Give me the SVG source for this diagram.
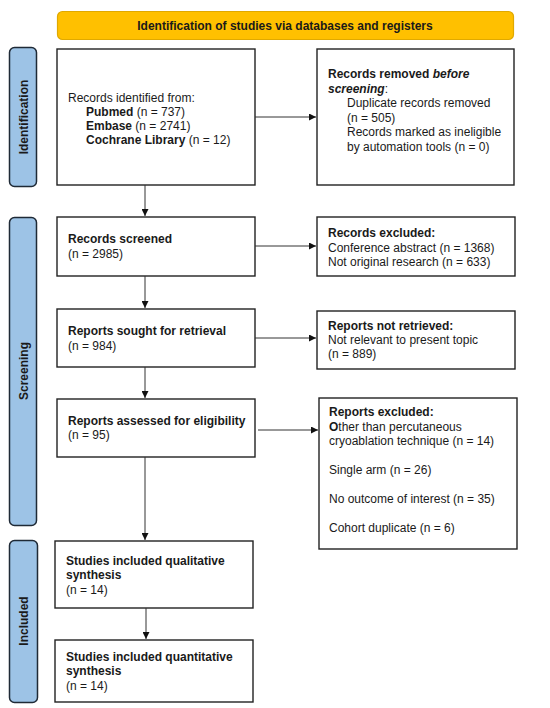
<svg xmlns="http://www.w3.org/2000/svg" width="550" height="708" viewBox="0 0 550 708">
<defs>
<style>
text{font-family:"Liberation Sans",Arial,sans-serif;font-size:12px;fill:#1a1a1a}
.b{font-weight:bold}
.box{fill:#fff;stroke:#222;stroke-width:1.4}
.side{fill:#9DC3E6;stroke:#1f2a36;stroke-width:1.5}
.ban{fill:#FFC000;stroke:#E0A900;stroke-width:1.2}
.c line{stroke:#333;stroke-width:1}
</style>
<marker id="ah" viewBox="0 0 10 10" refX="10" refY="5" markerWidth="7" markerHeight="7" markerUnits="userSpaceOnUse" orient="auto">
<path d="M0,0 L10,5 L0,10 z" fill="#111"/>
</marker>
</defs>
<rect width="550" height="708" fill="#fff"/>

<g id="banner">
<rect class="ban" x="57.5" y="11.5" width="456" height="28" rx="5"/>
<text class="b" x="285" y="30" text-anchor="middle">Identification of studies via databases and registers</text>
</g>

<g id="side-identification">
<rect class="side" x="9.5" y="47.5" width="27" height="139" rx="5"/>
<text class="b" transform="translate(28,117) rotate(-90)" text-anchor="middle">Identification</text>
</g>
<g id="side-screening">
<rect class="side" x="9.5" y="217.5" width="27" height="308" rx="5"/>
<text class="b" transform="translate(28,371) rotate(-90)" text-anchor="middle">Screening</text>
</g>
<g id="side-included">
<rect class="side" x="9.5" y="540.5" width="28" height="162" rx="5"/>
<text class="b" transform="translate(28,621) rotate(-90)" text-anchor="middle">Included</text>
</g>

<g id="records-identified">
<rect class="box" x="57" y="49" width="198" height="136"/>
<text x="68" y="101.5">Records identified from:</text>
<text x="86" y="115.5"><tspan class="b">Pubmed</tspan> (n = 737)</text>
<text x="86" y="129.5"><tspan class="b">Embase</tspan> (n = 2741)</text>
<text x="86" y="143.5"><tspan class="b">Cochrane Library</tspan> (n = 12)</text>
</g>

<g id="records-removed">
<rect class="box" x="317" y="49" width="197" height="136"/>
<text x="328" y="78" class="b">Records removed <tspan font-style="italic">before</tspan></text>
<text x="328" y="92.6"><tspan class="b" font-style="italic">screening</tspan>:</text>
<text x="347" y="107.2">Duplicate records removed</text>
<text x="347" y="121.8">(n = 505)</text>
<text x="347" y="136.4">Records marked as ineligible</text>
<text x="347" y="151">by automation tools (n = 0)</text>
</g>

<g id="records-screened">
<rect class="box" x="57" y="217" width="198" height="59"/>
<text class="b" x="68" y="243">Records screened</text>
<text x="68" y="258">(n = 2985)</text>
</g>

<g id="records-excluded">
<rect class="box" x="317" y="217" width="198" height="59"/>
<text class="b" x="328" y="237">Records excluded:</text>
<text x="328" y="251.5">Conference abstract (n = 1368)</text>
<text x="328" y="266">Not original research (n = 633)</text>
</g>

<g id="reports-sought">
<rect class="box" x="57" y="309" width="198" height="58"/>
<text class="b" x="68" y="335">Reports sought for retrieval</text>
<text x="68" y="350">(n = 984)</text>
</g>

<g id="reports-not-retrieved">
<rect class="box" x="317" y="311" width="198" height="58"/>
<text class="b" x="328" y="330">Reports not retrieved:</text>
<text x="328" y="344">Not relevant to present topic</text>
<text x="328" y="358">(n = 889)</text>
</g>

<g id="reports-assessed">
<rect class="box" x="57" y="399" width="198" height="58"/>
<text class="b" x="68" y="425">Reports assessed for eligibility</text>
<text x="68" y="439">(n = 95)</text>
</g>

<g id="reports-excluded">
<rect class="box" x="319" y="398" width="198" height="151"/>
<text class="b" x="329" y="416">Reports excluded:</text>
<text x="329" y="431"><tspan class="b">O</tspan>ther than percutaneous</text>
<text x="329" y="445">cryoablation technique (n = 14)</text>
<text x="329" y="474">Single arm (n = 26)</text>
<text x="329" y="503">No outcome of interest (n = 35)</text>
<text x="329" y="532">Cohort duplicate (n = 6)</text>
</g>

<g id="qualitative">
<rect class="box" x="55" y="541" width="198" height="67"/>
<text class="b" x="66" y="565">Studies included qualitative</text>
<text class="b" x="66" y="579">synthesis</text>
<text x="66" y="594">(n = 14)</text>
</g>

<g id="quantitative">
<rect class="box" x="55" y="640" width="198" height="62"/>
<text class="b" x="66" y="661">Studies included quantitative</text>
<text class="b" x="66" y="675">synthesis</text>
<text x="66" y="690">(n = 14)</text>
</g>

<g id="connectors" class="c">
<line x1="145" y1="185" x2="145" y2="216" marker-end="url(#ah)"/>
<line x1="145" y1="276" x2="145" y2="308" marker-end="url(#ah)"/>
<line x1="145" y1="367" x2="145" y2="398" marker-end="url(#ah)"/>
<line x1="145" y1="457" x2="145" y2="540" marker-end="url(#ah)"/>
<line x1="146" y1="608" x2="146" y2="639" marker-end="url(#ah)"/>
<line x1="255" y1="117" x2="316" y2="117" marker-end="url(#ah)"/>
<line x1="255" y1="246" x2="316" y2="246" marker-end="url(#ah)"/>
<line x1="255" y1="338" x2="316" y2="338" marker-end="url(#ah)"/>
<line x1="258" y1="430" x2="318" y2="430" marker-end="url(#ah)"/>
</g>
</svg>
